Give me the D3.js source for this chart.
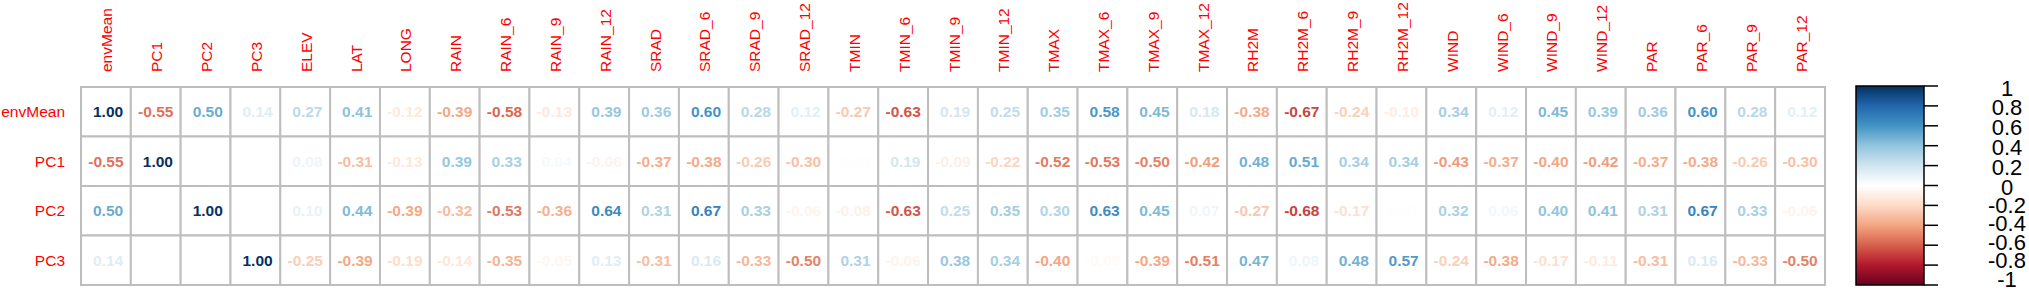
<!DOCTYPE html>
<html>
<head>
<meta charset="utf-8">
<script src="https://cdn.jsdelivr.net/npm/d3@7"></script>
<style>
  body { margin: 0; background: #fff; }
  svg { display: block; font-family: "Liberation Sans", Arial, sans-serif; }
</style>
</head>
<body>
<svg width="2029" height="295"></svg>
<script>
var columns = ["envMean", "PC1", "PC2", "PC3", "ELEV", "LAT", "LONG",
    "RAIN", "RAIN_6", "RAIN_9", "RAIN_12", "SRAD", "SRAD_6", "SRAD_9", "SRAD_12",
    "TMIN", "TMIN_6", "TMIN_9", "TMIN_12", "TMAX", "TMAX_6", "TMAX_9", "TMAX_12",
    "RH2M", "RH2M_6", "RH2M_9", "RH2M_12", "WIND", "WIND_6", "WIND_9", "WIND_12",
    "PAR", "PAR_6", "PAR_9", "PAR_12"]
var rows = ["envMean", "PC1", "PC2", "PC3"]

var envMean = [1.00, -0.55, 0.50, 0.14, 0.27, 0.41, -0.12, -0.39, -0.58, -0.13, 0.39, 0.36, 0.60, 0.28, 0.12,
    -0.27, -0.63, 0.19, 0.25, 0.35, 0.58, 0.45, 0.18, -0.38, -0.67, -0.24, -0.10, 0.34, 0.12, 0.45, 0.39,
    0.36, 0.60, 0.28, 0.12]
var pc1 = [-0.55, 1.00, 0.00, 0.00, 0.08, -0.31, -0.13, 0.39, 0.33, 0.04, -0.06, -0.37, -0.38, -0.26, -0.30,
    0.01, 0.19, -0.09, -0.22, -0.52, -0.53, -0.50, -0.42, 0.48, 0.51, 0.34, 0.34, -0.43, -0.37, -0.40, -0.42,
    -0.37, -0.38, -0.26, -0.30]
var pc2 = [0.50, 0.00, 1.00, 0.00, 0.10, 0.44, -0.39, -0.32, -0.53, -0.36, 0.64, 0.31, 0.67, 0.33, -0.06,
    -0.08, -0.63, 0.25, 0.35, 0.30, 0.63, 0.45, 0.07, -0.27, -0.68, -0.17, 0.01, 0.32, 0.06, 0.40, 0.41,
    0.31, 0.67, 0.33, -0.06]
var pc3 = [0.14, 0.00, 0.00, 1.00, -0.25, -0.39, -0.19, -0.14, -0.35, -0.05, 0.13, -0.31, 0.16, -0.33, -0.50,
    0.31, -0.06, 0.38, 0.34, -0.40, -0.03, -0.39, -0.51, 0.47, 0.08, 0.48, 0.57, -0.24, -0.38, -0.17, -0.11,
    -0.31, 0.16, -0.33, -0.50]

var legendTicks = [1, 0.8, 0.6, 0.4, 0.2, 0, -0.2, -0.4, -0.6, -0.8, -1]
var rdbu = ["#67001F", "#B2182B", "#D6604D", "#F4A582", "#FDDBC7", "#FFFFFF",
    "#D1E5F0", "#92C5DE", "#4393C3", "#2166AC", "#053061"]

var svg = d3.select("svg")
var values = [envMean, pc1, pc2, pc3]

var cells = []
values.forEach(function(r, i) {
    r.forEach(function(v, j) {
        cells.push({ row: rows[i], col: columns[j], value: v })
    })
})

var x = d3.scaleBand().domain(columns).range([81, 1825])
var y = d3.scaleBand().domain(rows).range([87, 285])

var color = d3.scaleLinear()
    .domain(d3.range(11).map(function(i) { return -1 + i * 0.2 }))
    .range(rdbu)
    .interpolate(d3.interpolateRgb)

// cells
svg.append("g").selectAll("rect")
    .data(cells)
    .enter().append("rect")
    .attr("x", d => x(d.col))
    .attr("y", d => y(d.row))
    .attr("width", x.bandwidth())
    .attr("height", y.bandwidth())
    .attr("fill", "white")
    .attr("stroke", "#BEBEBE")
    .attr("stroke-width", 2)

svg.append("g").selectAll("text")
    .data(cells)
    .enter().append("text")
    .attr("x", d => x(d.col) + x.bandwidth() / 2)
    .attr("y", d => y(d.row) + y.bandwidth() / 2)
    .attr("text-anchor", "middle")
    .attr("dominant-baseline", "central")
    .style("white-space", "pre")
    .style("font-size", "15.5px")
    .style("font-weight", "bold")
    .attr("fill", d => color(d.value))
    .text(d => (d.value < 0 ? "" : " ") + d.value.toFixed(2))

// labels
svg.append("g").selectAll("text")
    .data(columns)
    .enter().append("text")
    .attr("transform", d => "translate(" + (x(d) + x.bandwidth() / 2 + 1) + ",72) rotate(-90)")
    .attr("dominant-baseline", "central")
    .style("font-size", "15.5px")
    .attr("fill", "red")
    .text(d => d)

svg.append("g").selectAll("text")
    .data(rows)
    .enter().append("text")
    .attr("x", 65)
    .attr("y", d => y(d) + y.bandwidth() / 2)
    .attr("text-anchor", "end")
    .attr("dominant-baseline", "central")
    .style("font-size", "15.5px")
    .attr("fill", "red")
    .text(d => d)

// colour legend
var ly = d3.scaleLinear().domain([1, -1]).range([86, 285])
var labelY = d3.scaleLinear().domain([1, 0, -1]).range([88, 187, 279])
var grad = svg.append("defs").append("linearGradient")
    .attr("id", "rdbu").attr("x1", 0).attr("x2", 0).attr("y1", 0).attr("y2", 1)
grad.selectAll("stop")
    .data(rdbu.slice().reverse())
    .enter().append("stop")
    .attr("offset", (d, i) => i / 10)
    .attr("stop-color", d => d)

svg.append("rect")
    .attr("x", 1856)
    .attr("y", ly(1))
    .attr("width", 68)
    .attr("height", ly(-1) - ly(1))
    .attr("fill", "url(#rdbu)")
    .attr("stroke", "black")
    .attr("stroke-width", 1.5)

svg.append("g").selectAll("line")
    .data(legendTicks)
    .enter().append("line")
    .attr("x1", 1924).attr("x2", 1938)
    .attr("y1", d => ly(d)).attr("y2", d => ly(d))
    .attr("stroke", "black")
    .attr("stroke-width", 1.5)

svg.append("g").selectAll("text")
    .data(legendTicks)
    .enter().append("text")
    .attr("x", 2007)
    .attr("y", d => labelY(d))
    .attr("text-anchor", "middle")
    .attr("dominant-baseline", "central")
    .style("font-size", "22px")
    .attr("fill", "black")
    .text(d => d)
</script>
</body>
</html>
